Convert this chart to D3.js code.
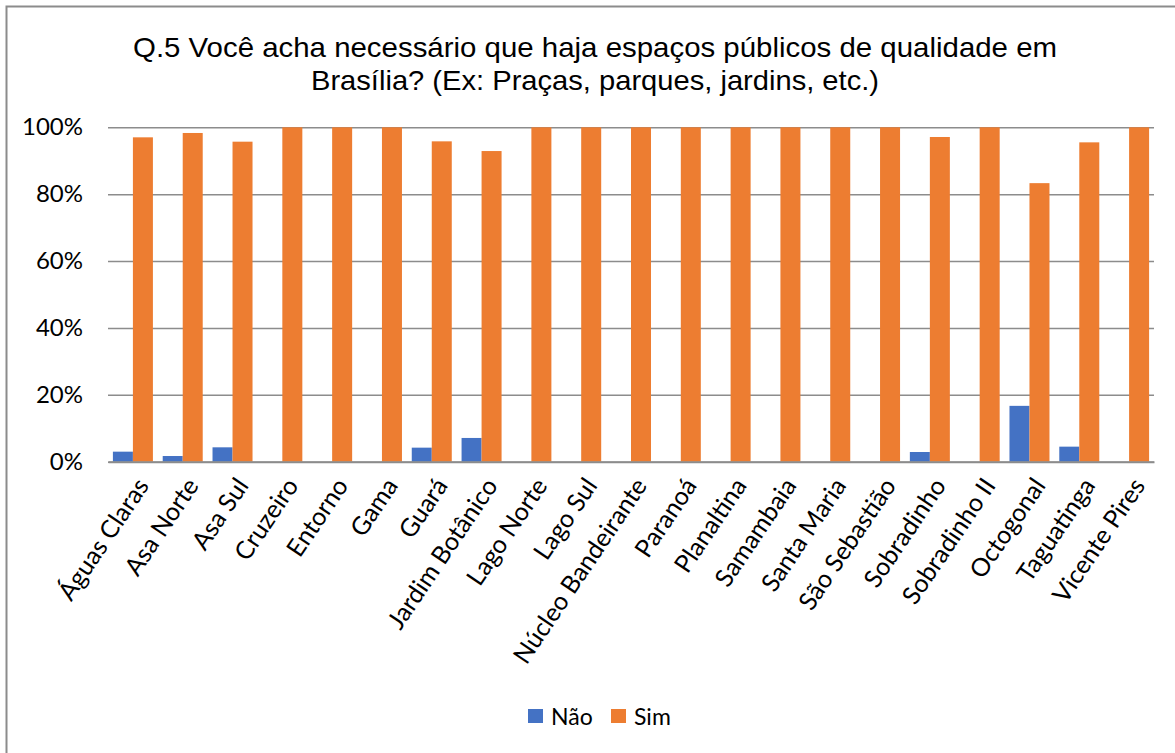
<!DOCTYPE html>
<html>
<head>
<meta charset="utf-8">
<script src="https://cdn.jsdelivr.net/npm/d3@7"></script>
<style>
  html, body { margin: 0; padding: 0; background: #fff; }
  svg { display: block; }
</style>
</head>
<body>
<svg id="chart" width="1175" height="753"></svg>
<script>
// Regiões administrativas
const categories = [
  "Águas Claras", "Asa Norte", "Asa Sul", "Cruzeiro", "Entorno", "Gama",
  "Guará", "Jardim Botânico", "Lago Norte", "Lago Sul", "Núcleo Bandeirante",
  "Paranoá", "Planaltina", "Samambaia", "Santa Maria", "São Sebastião",
  "Sobradinho", "Sobradinho II", "Octogonal", "Taguatinga", "Vicente Pires"
];
// Percentual de respostas "Não"
const naoValues = [3.0, 1.7, 4.3, 0, 0, 0, 4.2, 7.1, 0, 0, 0, 0, 0, 0, 0, 0, 2.9, 0, 16.7, 4.5, 0];
// Percentual de respostas "Sim"
const simValues = [97.0, 98.3, 95.7, 100, 100, 100, 95.8, 92.9, 100, 100, 100, 100, 100, 100, 100, 100, 97.1, 100, 83.3, 95.5, 100];
const seriesNames = ["Não", "Sim"];
const yTicks = [0, 20, 40, 60, 80, 100];
const titleLines = [
  "Q.5 Você acha necessário que haja espaços públicos de qualidade em",
  "Brasília? (Ex: Praças, parques, jardins, etc.)"
];

const colors = { "Não": "#4472C4", "Sim": "#ED7D31" };
const labelFont = "Lato, 'Open Sans', sans-serif";

const svg = d3.select("#chart");

// Moldura do gráfico
svg.append("rect")
  .attr("x", 6.5).attr("y", 6.5)
  .attr("width", 1180).attr("height", 760)
  .attr("fill", "#fff")
  .attr("stroke", "#8c8c8c").attr("stroke-width", 2);

const plot = { left: 108, right: 1154, top: 127.3, bottom: 461.7 };

const x = d3.scaleBand().domain(categories).range([plot.left, plot.right]).padding(0);
const sub = d3.scaleBand().domain(seriesNames).range([0, x.bandwidth()])
  .paddingInner(0).paddingOuter(0.245);
const y = d3.scaleLinear().domain([0, 100]).range([plot.bottom, plot.top]);

// Título (duas linhas, fonte levemente condensada)
const titleWidths = [924, 568];
svg.append("g").selectAll("text")
  .data(titleLines).join("text")
  .attr("x", 595)
  .attr("y", (d, i) => 57 + i * 32.5)
  .attr("text-anchor", "middle")
  .attr("font-family", "'Liberation Sans', Arial, sans-serif")
  .attr("font-size", 28)
  .attr("textLength", (d, i) => titleWidths[i])
  .attr("lengthAdjust", "spacingAndGlyphs")
  .attr("fill", "#000")
  .text(d => d);

// Linhas de grade
const yAxis = d3.axisLeft(y).tickValues(yTicks).tickSize(-(plot.right - plot.left))
  .tickFormat(d => d + "%").tickPadding(25);
const gy = svg.append("g").attr("transform", `translate(${plot.left},0)`).call(yAxis);
gy.select(".domain").remove();
gy.selectAll(".tick line").attr("stroke", "#8c8c8c").attr("stroke-width", 1.5);
gy.selectAll(".tick text")
  .attr("font-family", labelFont).attr("font-size", 24).attr("fill", "#000");

// Barras
const groups = svg.append("g").selectAll("g")
  .data(categories.map((c, i) => ({ c, vals: [naoValues[i], simValues[i]] })))
  .join("g")
  .attr("transform", d => `translate(${x(d.c)},0)`);

groups.selectAll("rect")
  .data(d => d.vals.map((v, j) => ({ key: seriesNames[j], v })))
  .join("rect")
  .attr("x", d => sub(d.key))
  .attr("width", sub.bandwidth())
  .attr("y", d => y(d.v))
  .attr("height", d => y(0) - y(d.v))
  .attr("fill", d => colors[d.key]);

// Eixo X
const xAxis = d3.axisBottom(x).tickSize(0).tickPadding(0);
const gx = svg.append("g").attr("transform", `translate(0,${plot.bottom})`).call(xAxis);
gx.select(".domain").attr("stroke", "#8c8c8c").attr("stroke-width", 2);
gx.selectAll(".tick text")
  .attr("font-family", labelFont).attr("font-size", 25).attr("fill", "#000")
  .attr("text-anchor", "end")
  .attr("dy", 0).attr("y", 0)
  .attr("transform", "translate(17,24) rotate(-56)");

// Legenda
const legend = svg.append("g").attr("transform", "translate(528,709)");
const items = legend.selectAll("g").data(seriesNames).join("g")
  .attr("transform", (d, i) => `translate(${i * 83},0)`);
items.append("rect").attr("width", 15).attr("height", 14).attr("fill", d => colors[d]);
items.append("text").attr("x", 23).attr("y", 16)
  .attr("font-family", labelFont).attr("font-size", 23).attr("fill", "#000")
  .text(d => d);
</script>
</body>
</html>
